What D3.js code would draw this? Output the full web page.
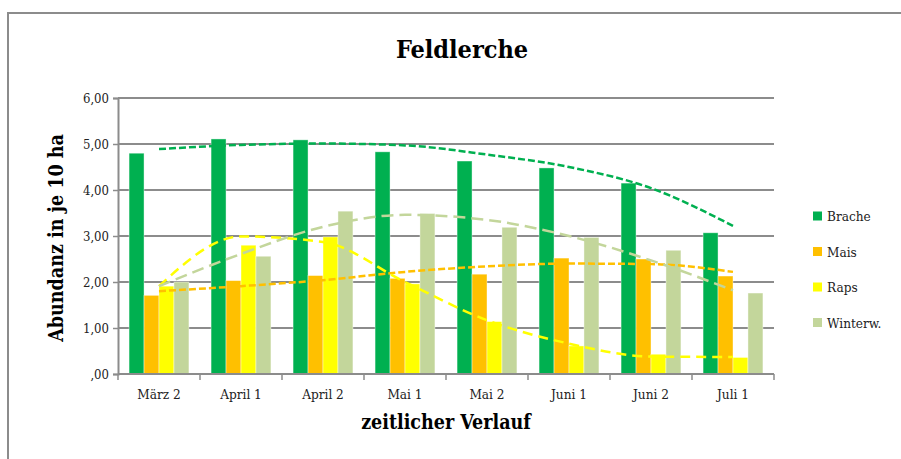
<!DOCTYPE html>
<html>
<head>
<meta charset="utf-8">
<script src="https://cdn.jsdelivr.net/npm/d3@7"></script>
<style>
  body { margin: 0; background: #fff; }
  svg { font-family: "DejaVu Serif Condensed", "DejaVu Serif", serif; }
</style>
</head>
<body>
<div id="chart"></div>
<script>
// categories and series
const categories = ["März 2", "April 1", "April 2", "Mai 1", "Mai 2", "Juni 1", "Juni 2", "Juli 1"];
const seriesNames = ["Brache", "Mais", "Raps", "Winterw."];
const brache = [4.80, 5.11, 5.09, 4.83, 4.63, 4.48, 4.15, 3.07];
const mais = [1.71, 2.03, 2.14, 2.08, 2.17, 2.52, 2.50, 2.13];
const raps = [1.91, 2.80, 2.98, 1.96, 1.14, 0.61, 0.43, 0.36];
const winterw = [2.00, 2.56, 3.54, 3.49, 3.19, 2.97, 2.69, 1.76];

// trendlines as drawn in the chart, read at each category
const bracheTrend = [4.89, 4.98, 5.01, 4.97, 4.77, 4.50, 4.04, 3.22];
const maisTrend = [1.80, 1.91, 2.04, 2.22, 2.34, 2.40, 2.39, 2.22];
const rapsTrend = [1.91, 2.99, 2.87, 2.00, 1.17, 0.66, 0.38, 0.37];
const winterwTrend = [1.91, 2.61, 3.20, 3.46, 3.35, 3.00, 2.47, 1.82];

const yTicks = [0, 1, 2, 3, 4, 5, 6];

const colors = ["#00B050", "#FFC000", "#FFFF00", "#C3D69B"];
const dashes = ["7,3", "7,3", "10,6", "12,6"];
const values = [brache, mais, raps, winterw];
const trends = [bracheTrend, maisTrend, rapsTrend, winterwTrend];

const W = 901, H = 459;
const plot = { left: 118, right: 774, top: 98, bottom: 374 };

const svg = d3.select("#chart").append("svg")
  .attr("width", W)
  .attr("height", H);

// outer frame
svg.append("rect")
  .attr("x", 8).attr("y", 13)
  .attr("width", 920).attr("height", 480)
  .attr("fill", "none")
  .attr("stroke", "#8c8c8c")
  .attr("stroke-width", 2);

const x = d3.scaleBand()
  .domain(categories)
  .range([plot.left, plot.right])
  .paddingInner(0.27)
  .paddingOuter(0.135);

const xs = d3.scaleBand()
  .domain(seriesNames)
  .range([0, x.bandwidth()]);

const y = d3.scaleLinear()
  .domain([0, 6])
  .range([plot.bottom, plot.top]);

const fmt = v => d3.format(".2f")(v).replace(".", ",").replace(/^0,/, ",");

// gridlines
svg.append("g")
  .selectAll("line")
  .data(yTicks.filter(d => d > 0))
  .join("line")
  .attr("x1", plot.left).attr("x2", plot.right)
  .attr("y1", d => y(d)).attr("y2", d => y(d))
  .attr("stroke", "#8c8c8c")
  .attr("stroke-width", 2);

// y axis
const yAxis = svg.append("g")
  .attr("transform", `translate(${plot.left},0)`)
  .call(d3.axisLeft(y).tickValues(yTicks).tickFormat(fmt).tickSize(5).tickPadding(4));
yAxis.select(".domain").attr("stroke", "#8c8c8c").attr("stroke-width", 2);
yAxis.selectAll(".tick line").attr("stroke", "#8c8c8c").attr("stroke-width", 1.5);
yAxis.selectAll("text").attr("font-size", 13).attr("fill", "#222")
  .attr("font-family", "DejaVu Serif Condensed, DejaVu Serif, serif");

// bars
values.forEach((vals, si) => {
  svg.append("g")
    .selectAll("rect")
    .data(vals)
    .join("rect")
    .attr("x", (d, i) => x(categories[i]) + xs(seriesNames[si]))
    .attr("y", d => y(d))
    .attr("width", xs.bandwidth())
    .attr("height", d => y(0) - y(d))
    .attr("fill", colors[si])
    .attr("stroke", "#ffffff")
    .attr("stroke-opacity", 0.5)
    .attr("stroke-width", 0.8);
});

// x axis with ticks at category boundaries
const step = x.step();
const boundaries = d3.range(categories.length + 1).map(i => plot.left + i * step);
svg.append("line")
  .attr("x1", plot.left).attr("x2", plot.right)
  .attr("y1", y(0)).attr("y2", y(0))
  .attr("stroke", "#8c8c8c").attr("stroke-width", 2);
svg.append("g")
  .selectAll("line")
  .data(boundaries)
  .join("line")
  .attr("x1", d => d).attr("x2", d => d)
  .attr("y1", y(0)).attr("y2", y(0) + 6)
  .attr("stroke", "#8c8c8c").attr("stroke-width", 1.5);
svg.append("g")
  .selectAll("text")
  .data(categories)
  .join("text")
  .attr("x", d => x(d) + x.bandwidth() / 2)
  .attr("y", 399)
  .attr("text-anchor", "middle")
  .attr("font-size", 13.5)
  .attr("fill", "#222")
  .text(d => d);

// trendlines
const line = d3.line()
  .x((d, i) => x(categories[i]) + x.bandwidth() / 2)
  .y(d => y(d))
  .curve(d3.curveMonotoneX);

trends.forEach((t, si) => {
  svg.append("path")
    .datum(t)
    .attr("d", line)
    .attr("fill", "none")
    .attr("stroke", colors[si])
    .attr("stroke-width", 2.5)
    .attr("stroke-dasharray", dashes[si]);
});

// title
svg.append("text")
  .attr("x", 462).attr("y", 58)
  .attr("text-anchor", "middle")
  .attr("font-size", 25)
  .attr("font-weight", "bold")
  .text("Feldlerche");

// axis titles
svg.append("text")
  .attr("transform", `translate(63,238) rotate(-90)`)
  .attr("text-anchor", "middle")
  .attr("font-size", 19.5)
  .attr("font-weight", "bold")
  .text("Abundanz in je 10 ha");

svg.append("text")
  .attr("x", 446).attr("y", 429)
  .attr("text-anchor", "middle")
  .attr("font-size", 19.5)
  .attr("font-weight", "bold")
  .text("zeitlicher Verlauf");

// legend
const legend = svg.append("g")
  .selectAll("g")
  .data(seriesNames)
  .join("g")
  .attr("transform", (d, i) => `translate(813,${216 + i * 35.5})`);
legend.append("rect")
  .attr("x", 0).attr("y", -4.5)
  .attr("width", 9).attr("height", 9)
  .attr("fill", (d, i) => colors[i]);
legend.append("text")
  .attr("x", 14).attr("y", 5)
  .attr("font-size", 13.5)
  .attr("fill", "#222")
  .text(d => d);
</script>
</body>
</html>
